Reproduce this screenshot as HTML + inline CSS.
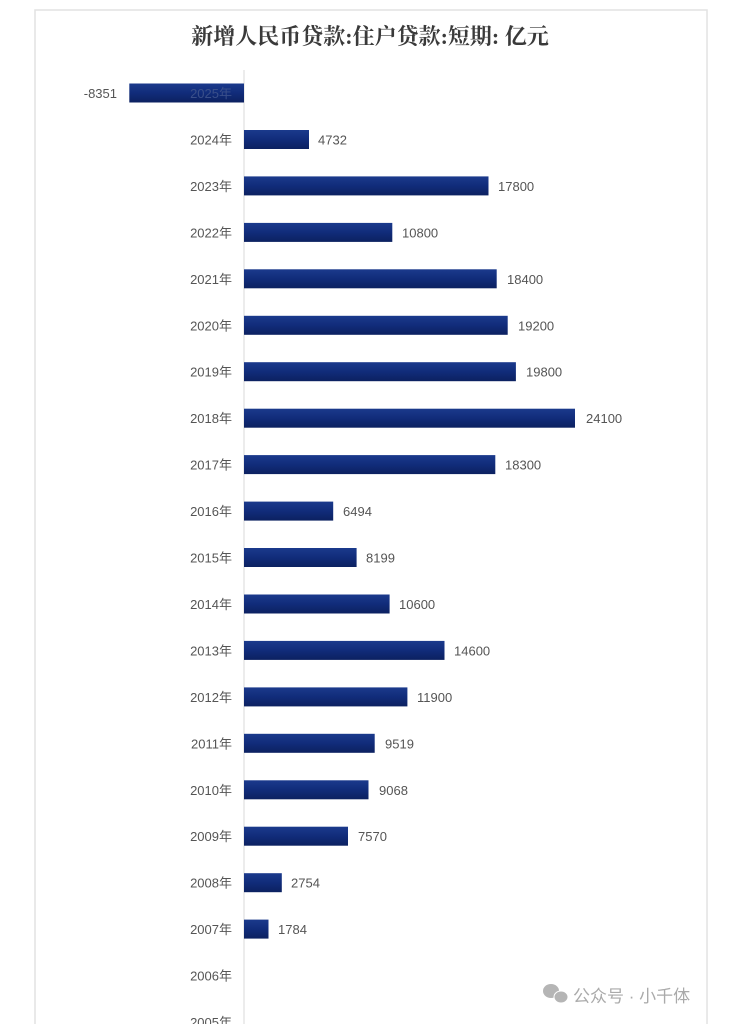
<!DOCTYPE html>
<html><head><meta charset="utf-8"><style>
html,body{margin:0;padding:0;background:#fff;}
svg{display:block;}
</style></head><body>
<svg width="741" height="1024" viewBox="0 0 741 1024" xmlns="http://www.w3.org/2000/svg">
<defs><linearGradient id="g" x1="0" y1="0" x2="0" y2="1"><stop offset="0" stop-color="#1b3a8c"/><stop offset="0.5" stop-color="#112c7a"/><stop offset="1" stop-color="#0c2160"/></linearGradient></defs>
<rect x="35" y="10" width="672" height="1020" fill="#fff" stroke="#e2e2e2" stroke-width="1.5"/>
<text x="370" y="44" text-anchor="middle" font-family="'Liberation Serif','Noto Serif CJK SC',serif" font-weight="bold" font-size="22" fill="#3a3a3a">新增人民币贷款:住户贷款:短期: 亿元</text>
<line x1="244" y1="70" x2="244" y2="1024" stroke="#d8d8d8" stroke-width="1"/>
<g font-family="'Liberation Sans','Noto Sans CJK SC',sans-serif" font-size="13" fill="#555">
<rect x="129.3" y="83.5" width="114.7" height="19" fill="url(#g)"/><text x="232" y="98" text-anchor="end" fill="#3a4f8a">2025年</text><text x="117" y="98" text-anchor="end">-8351</text>
<rect x="244" y="130" width="65" height="19" fill="url(#g)"/><text x="232" y="144.5" text-anchor="end">2024年</text><text x="318" y="144.5">4732</text>
<rect x="244" y="176.4" width="244.5" height="19" fill="url(#g)"/><text x="232" y="191" text-anchor="end">2023年</text><text x="498" y="191">17800</text>
<rect x="244" y="222.9" width="148.3" height="19" fill="url(#g)"/><text x="232" y="237.4" text-anchor="end">2022年</text><text x="402" y="237.4">10800</text>
<rect x="244" y="269.3" width="252.7" height="19" fill="url(#g)"/><text x="232" y="283.8" text-anchor="end">2021年</text><text x="507" y="283.8">18400</text>
<rect x="244" y="315.8" width="263.7" height="19" fill="url(#g)"/><text x="232" y="330.3" text-anchor="end">2020年</text><text x="518" y="330.3">19200</text>
<rect x="244" y="362.2" width="271.9" height="19" fill="url(#g)"/><text x="232" y="376.7" text-anchor="end">2019年</text><text x="526" y="376.7">19800</text>
<rect x="244" y="408.7" width="331" height="19" fill="url(#g)"/><text x="232" y="423.2" text-anchor="end">2018年</text><text x="586" y="423.2">24100</text>
<rect x="244" y="455.1" width="251.3" height="19" fill="url(#g)"/><text x="232" y="469.6" text-anchor="end">2017年</text><text x="505" y="469.6">18300</text>
<rect x="244" y="501.6" width="89.2" height="19" fill="url(#g)"/><text x="232" y="516.1" text-anchor="end">2016年</text><text x="343" y="516.1">6494</text>
<rect x="244" y="548" width="112.6" height="19" fill="url(#g)"/><text x="232" y="562.5" text-anchor="end">2015年</text><text x="366" y="562.5">8199</text>
<rect x="244" y="594.5" width="145.6" height="19" fill="url(#g)"/><text x="232" y="609" text-anchor="end">2014年</text><text x="399" y="609">10600</text>
<rect x="244" y="640.9" width="200.5" height="19" fill="url(#g)"/><text x="232" y="655.4" text-anchor="end">2013年</text><text x="454" y="655.4">14600</text>
<rect x="244" y="687.4" width="163.4" height="19" fill="url(#g)"/><text x="232" y="701.9" text-anchor="end">2012年</text><text x="417" y="701.9">11900</text>
<rect x="244" y="733.8" width="130.7" height="19" fill="url(#g)"/><text x="232" y="748.3" text-anchor="end">2011年</text><text x="385" y="748.3">9519</text>
<rect x="244" y="780.3" width="124.5" height="19" fill="url(#g)"/><text x="232" y="794.8" text-anchor="end">2010年</text><text x="379" y="794.8">9068</text>
<rect x="244" y="826.7" width="104" height="19" fill="url(#g)"/><text x="232" y="841.2" text-anchor="end">2009年</text><text x="358" y="841.2">7570</text>
<rect x="244" y="873.2" width="37.8" height="19" fill="url(#g)"/><text x="232" y="887.7" text-anchor="end">2008年</text><text x="291" y="887.7">2754</text>
<rect x="244" y="919.6" width="24.5" height="19" fill="url(#g)"/><text x="232" y="934.1" text-anchor="end">2007年</text><text x="278" y="934.1">1784</text>
<text x="232" y="980.6" text-anchor="end">2006年</text>
<text x="232" y="1027" text-anchor="end">2005年</text>
</g>
<g fill="#b5b5b5"><ellipse cx="551" cy="991" rx="8" ry="7"/><ellipse cx="561" cy="997" rx="7" ry="6" stroke="#fff" stroke-width="1"/></g>
<text x="573" y="1002" font-family="'Liberation Sans','Noto Sans CJK SC',sans-serif" font-size="17" fill="#aaa">公众号 · 小千体</text>
</svg>
</body></html>
